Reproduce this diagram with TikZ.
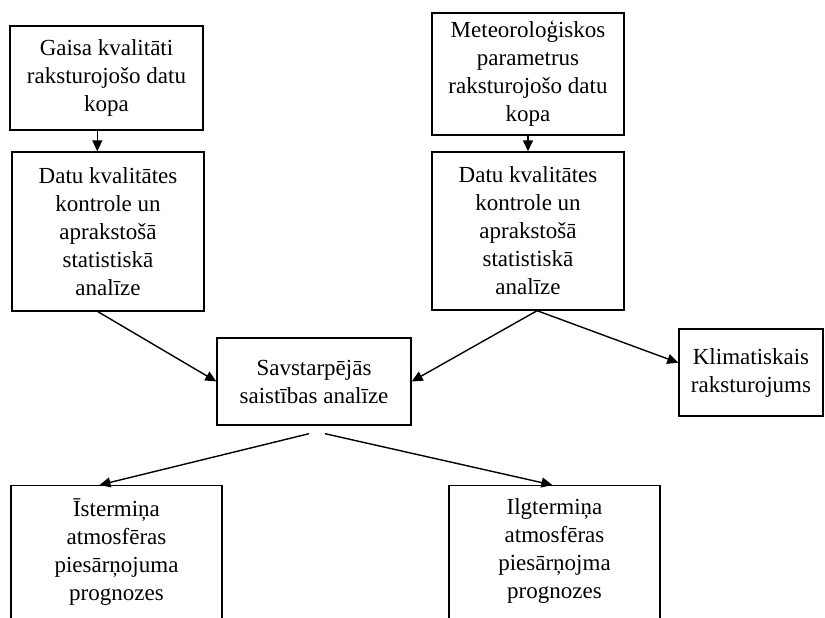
\documentclass[tikz,border=0pt]{standalone}
\usepackage{fontspec}
\setmainfont{Liberation Serif}
\usetikzlibrary{arrows.meta,calc}
\begin{document}
\begin{tikzpicture}[x=1pt,y=-1pt,
  box/.style={draw=black,line width=1.4pt,inner sep=0pt,align=center,
    font=\fontsize{23}{28}\selectfont},
  arr/.style={line width=1.4pt,-{Triangle[length=11pt,width=10pt]}}]
\clip (0,0) rectangle (825,618);
\fill[white] (0,0) rectangle (825,618);
% boxes
\node[box,minimum width=193pt,minimum height=104pt] (b1) at (106.5,78)
  {Gaisa kvalitāti\\raksturojošo datu\\kopa};
\node[box,minimum width=192pt,minimum height=159pt] (b2) at (108,231.5)
  {Datu kvalitātes\\kontrole un\\aprakstošā\\statistiskā\\analīze};
\node[box,minimum width=192pt,minimum height=122pt] (b3) at (528,74)
  {Meteoroloģiskos\\parametrus\\raksturojošo datu\\kopa};
\node[box,minimum width=192pt,minimum height=158pt] (b4) at (528,231)
  {Datu kvalitātes\\kontrole un\\aprakstošā\\statistiskā\\analīze};
\node[box,minimum width=194pt,minimum height=87pt] (c) at (314,381.5)
  {Savstarpējās\\saistības analīze};
\node[box,minimum width=144pt,minimum height=87pt] (k) at (751,372.5)
  {Klimatiskais\\raksturojums};
\node[box,minimum width=211pt,minimum height=170pt,anchor=north] (bl) at (116.5,485) {};
\node[box,draw=none,anchor=north] (blt) at (bl.north) [yshift=-13pt]
  {Īstermiņa\\atmosfēras\\piesārņojuma\\prognozes};
\node[box,minimum width=211pt,minimum height=170pt,anchor=north] (br) at (554.5,485) {};
\node[box,draw=none,anchor=north] (brt) at (br.north) [yshift=-13pt]
  {Ilgtermiņa\\atmosfēras\\piesārņojma\\prognozes};
% connectors
\coordinate (t1) at ($(b1.south west)+(88,0)$);
\draw[arr] (t1) -- (t1 |- b2.north);
\draw[arr] (b3.south) -- (b3.south |- b4.north);
\draw[arr] ($(b2.south west)!0.448!(b2.south east)$) -- (c.west);
\coordinate (s4) at ($(b4.south west)!0.547!(b4.south east)$);
\draw[arr] (s4) -- (c.east);
\draw[arr] (s4) -- ($(k.north west)!0.39!(k.south west)$);
\draw[arr] ($(c.south)+(-5,8)$) -- ($(bl.north west)!0.42!(bl.north east)$);
\draw[arr] ($(c.south)+(11,8)$) -- ($(br.north west)!0.49!(br.north east)$);
\end{tikzpicture}
\end{document}
